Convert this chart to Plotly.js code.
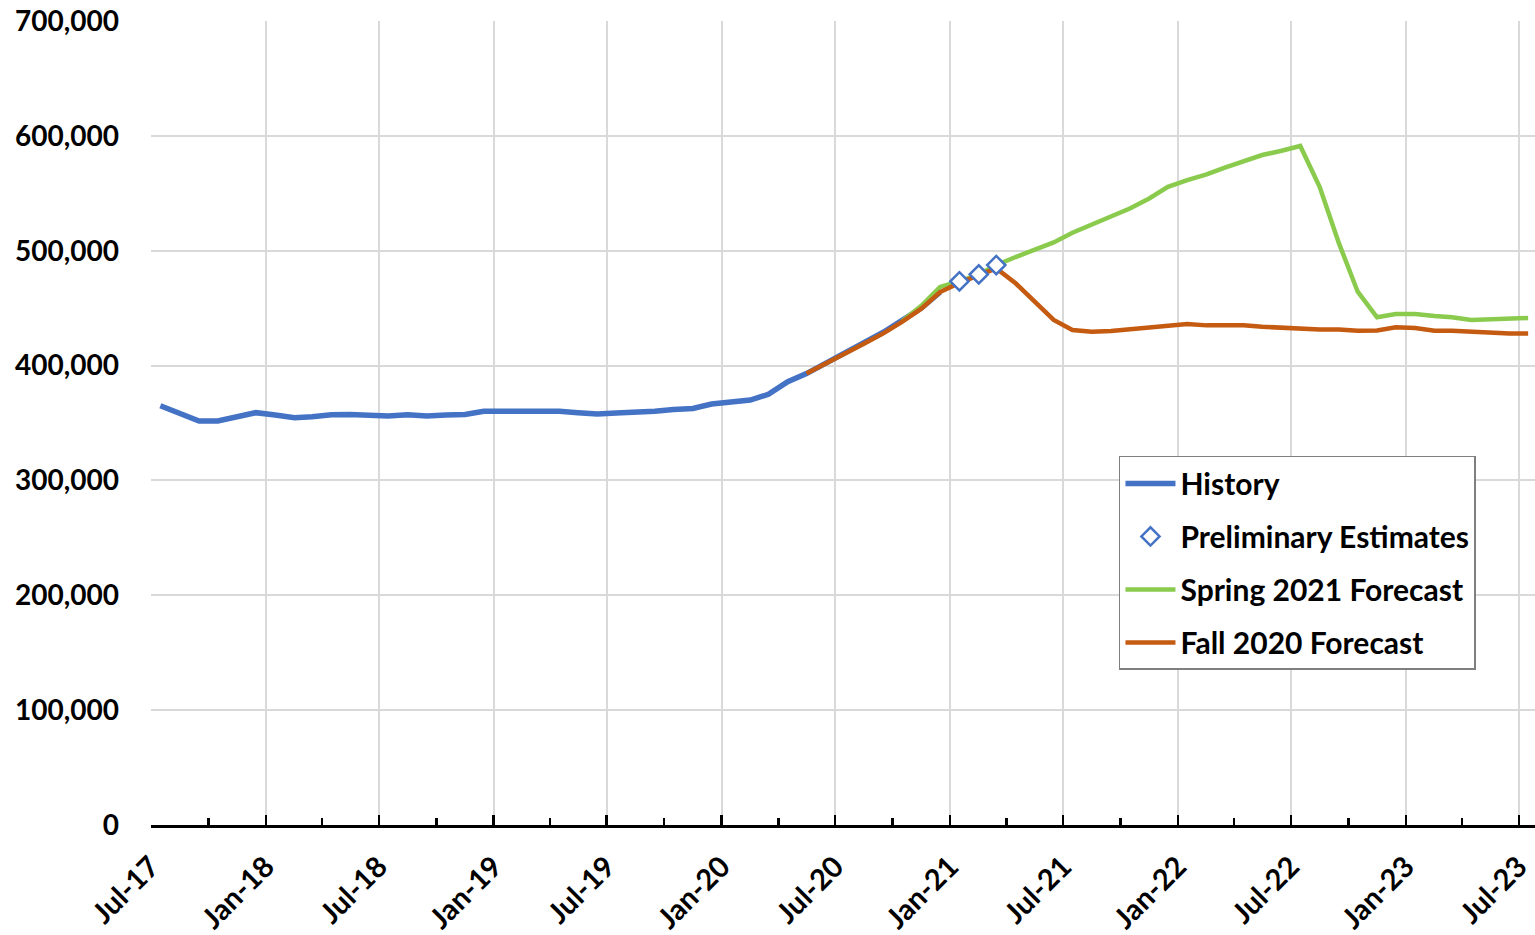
<!DOCTYPE html>
<html>
<head>
<meta charset="utf-8">
<script src="https://cdn.plot.ly/plotly-3.0.1.min.js"></script>
<style>
html,body{margin:0;padding:0;background:#fff;}
#chart{width:1535px;height:935px;}
</style>
</head>
<body>
<div id="chart"></div>
<script>
// Data (values in persons; points plotted mid-month)
var historyDates = ["2017-07-16","2017-08-16","2017-09-16","2017-10-16","2017-11-16","2017-12-16",
  "2018-01-16","2018-02-16","2018-03-16","2018-04-16","2018-05-16","2018-06-16",
  "2018-07-16","2018-08-16","2018-09-16","2018-10-16","2018-11-16","2018-12-16",
  "2019-01-16","2019-02-16","2019-03-16","2019-04-16","2019-05-16","2019-06-16",
  "2019-07-16","2019-08-16","2019-09-16","2019-10-16","2019-11-16","2019-12-16",
  "2020-01-16","2020-02-16","2020-03-16","2020-04-16","2020-05-16","2020-06-16",
  "2020-07-16","2020-08-16","2020-09-16","2020-10-16","2020-11-16","2020-12-16"];
var historyValues = [365000,358400,351700,351700,355400,359000,
  357000,354600,355500,357200,357500,357200,
  356100,357200,356100,357000,357500,360200,
  360500,360500,361000,360200,359000,357800,
  358600,359100,360300,361800,362700,366500,
  368300,370000,375000,386000,393000,402500,
  411000,420000,429000,439000,450000,464000];

var prelimDates = ["2021-01-16","2021-02-16","2021-03-16"];
var prelimValues = [473400,479400,487500];

var springDates = ["2020-10-16","2020-11-16","2020-12-16",
  "2021-01-16","2021-02-16","2021-03-16","2021-04-16","2021-05-16","2021-06-16",
  "2021-07-16","2021-08-16","2021-09-16","2021-10-16","2021-11-16","2021-12-16",
  "2022-01-16","2022-02-16","2022-03-16","2022-04-16","2022-05-16","2022-06-16",
  "2022-07-16","2022-08-16","2022-09-16","2022-10-16","2022-11-16","2022-12-16",
  "2023-01-16","2023-02-16","2023-03-16","2023-04-16","2023-05-16","2023-06-16","2023-07-16"];
var springValues = [438500,452000,468500,
  473400,479400,487500,494500,500600,507200,
  515600,522900,529500,536800,545500,555600,
  561500,566400,572200,577400,583300,587000,
  591200,555600,506400,464300,442000,444900,
  444900,443100,442000,439700,440500,440500,441400];

var fallDates = ["2020-05-16","2020-06-16","2020-07-16","2020-08-16","2020-09-16","2020-10-16","2020-11-16","2020-12-16",
  "2021-01-16","2021-02-16","2021-03-16","2021-04-16","2021-05-16","2021-06-16",
  "2021-07-16","2021-08-16","2021-09-16","2021-10-16","2021-11-16","2021-12-16",
  "2022-01-16","2022-02-16","2022-03-16","2022-04-16","2022-05-16","2022-06-16",
  "2022-07-16","2022-08-16","2022-09-16","2022-10-16","2022-11-16","2022-12-16",
  "2023-01-16","2023-02-16","2023-03-16","2023-04-16","2023-05-16","2023-06-16","2023-07-16"];
var fallValues = [393000,401500,410000,419000,428000,438000,449500,464000,
  472000,479000,484600,471600,455600,439700,
  431000,429500,430100,431400,433300,435000,
  436200,435000,435000,435000,433800,432700,
  432500,431400,431400,430300,430600,433300,
  432700,430300,430300,429200,428600,428000,428000];

var tickVals = ["2017-07-01","2018-01-01","2018-07-01","2019-01-01","2019-07-01","2020-01-01",
  "2020-07-01","2021-01-01","2021-07-01","2022-01-01","2022-07-01","2023-01-01","2023-07-01"];
var tickText = ["Jul-17","Jan-18","Jul-18","Jan-19","Jul-19","Jan-20",
  "Jul-20","Jan-21","Jul-21","Jan-22","Jul-22","Jan-23","Jul-23"];

var FONT = "Lato, 'Open Sans', sans-serif";

var traces = [
  {x: historyDates, y: historyValues, name: "History", type: "scatter", mode: "lines",
   line: {color: "#4472C4", width: 5.5}, legendgroup: "a", legendrank: 1},
  {x: springDates, y: springValues, name: "Spring 2021 Forecast", type: "scatter", mode: "lines",
   line: {color: "#8ACB4E", width: 4.5}, legendgroup: "c", legendrank: 3},
  {x: fallDates, y: fallValues, name: "Fall 2020 Forecast", type: "scatter", mode: "lines",
   line: {color: "#C55A11", width: 4.5}, legendgroup: "d", legendrank: 4},
  {x: prelimDates, y: prelimValues, name: "Preliminary Estimates", type: "scatter", mode: "markers",
   marker: {symbol: "diamond", size: 14, color: "#ffffff", line: {color: "#4472C4", width: 2.5}},
   legendgroup: "b", legendrank: 2}
];

var layout = {
  width: 1535, height: 935,
  margin: {l: 151, r: 0, t: 21, b: 110},
  paper_bgcolor: "#ffffff", plot_bgcolor: "#ffffff",
  font: {family: FONT, size: 28, color: "#000000", weight: "bold"},
  showlegend: true,
  legend: {
    x: 0.6994, y: 0.459, xanchor: "left", yanchor: "top",
    bgcolor: "#ffffff", bordercolor: "#7f7f7f", borderwidth: 1.5,
    font: {family: FONT, size: 30, color: "#000000", weight: "bold"},
    traceorder: "grouped", tracegroupgap: 11, itemwidth: 50
  },
  xaxis: {
    type: "date",
    range: ["2017-07-01", "2023-07-27"],
    tickmode: "array", tickvals: tickVals, ticktext: tickText,
    tickangle: -45,
    tickfont: {family: FONT, size: 29, color: "#000000", weight: "bold"},
    ticklabelstandoff: 10,
    showgrid: true, gridcolor: "#d9d9d9", gridwidth: 2,
    showline: true, linecolor: "#000000", linewidth: 3,
    ticks: "inside", ticklen: 10, tickwidth: 2.5, tickcolor: "#000000",
    minor: {dtick: "M3", tick0: "2017-07-01", ticks: "inside", ticklen: 7, tickwidth: 2.5, tickcolor: "#000000", showgrid: false},
    zeroline: false, fixedrange: true
  },
  yaxis: {
    range: [0, 700000], dtick: 100000, tick0: 0,
    tickformat: ",d",
    tickfont: {family: FONT, size: 28, color: "#000000", weight: "bold"},
    showgrid: true, gridcolor: "#d9d9d9", gridwidth: 2,
    showline: false, zeroline: false,
    ticks: "", ticklabelstandoff: 31, fixedrange: true
  }
};

Plotly.newPlot("chart", traces, layout, {displayModeBar: false, staticPlot: true});
</script>
</body>
</html>
